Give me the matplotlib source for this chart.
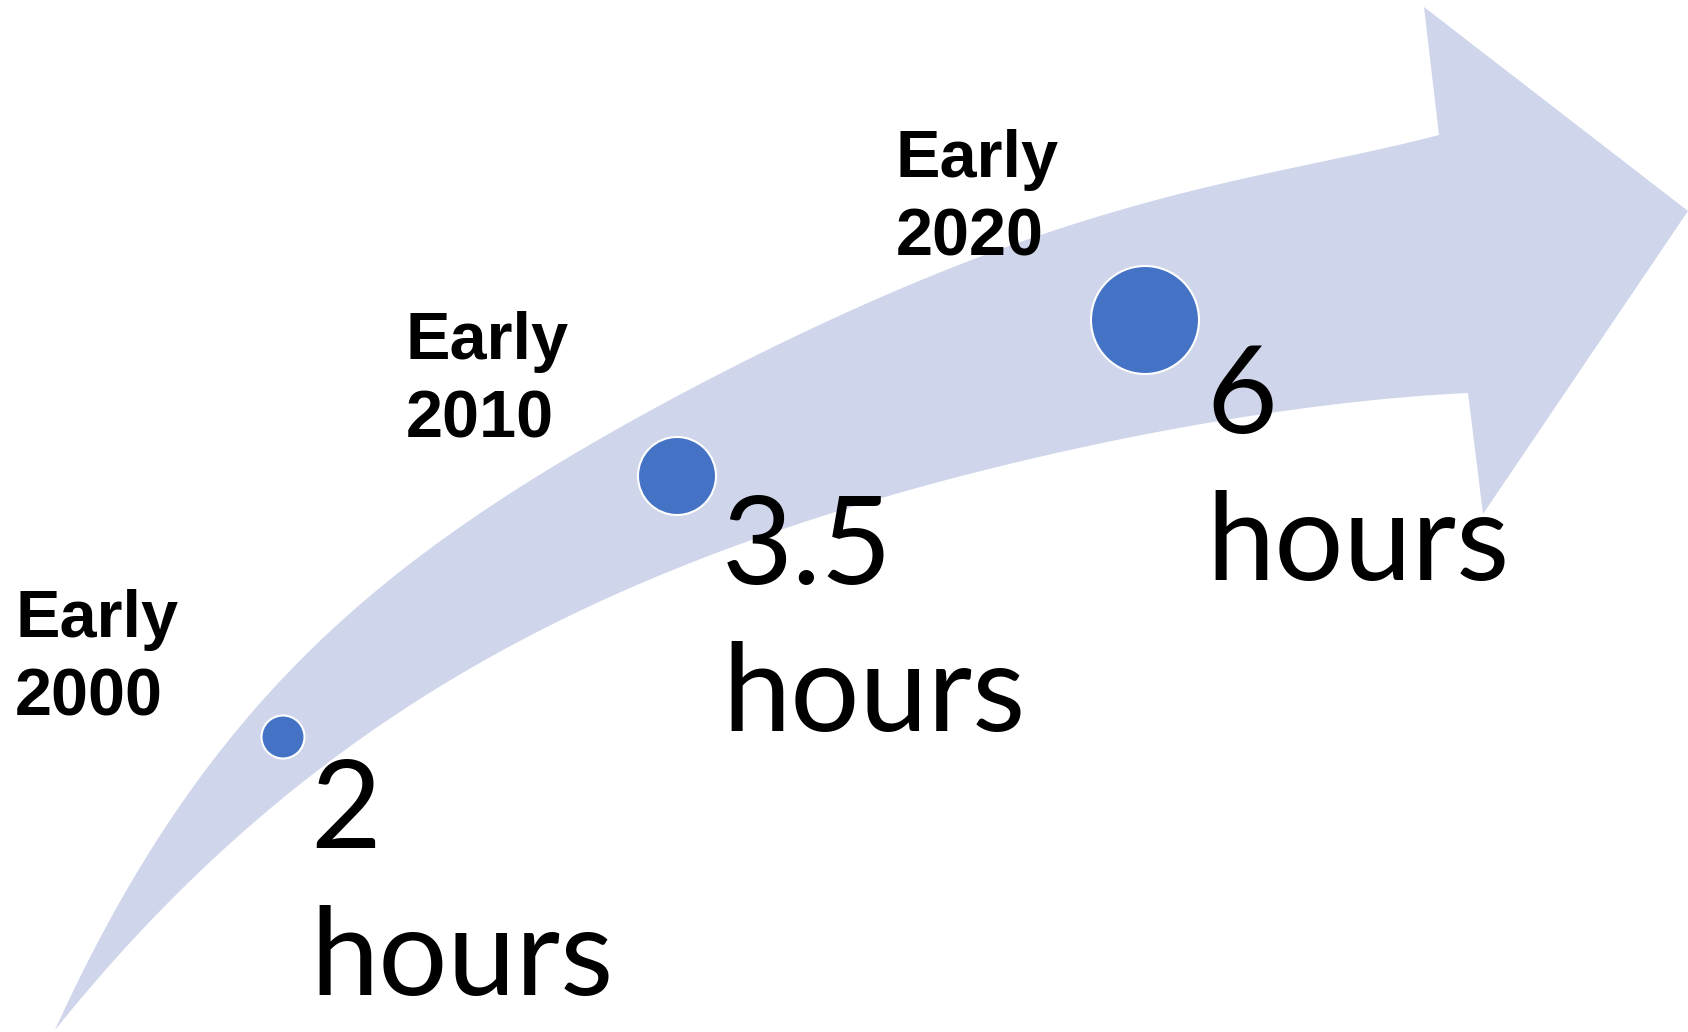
import numpy as np
import matplotlib.pyplot as plt
from matplotlib.patches import Polygon, Circle

# data
periods = ["Early\n2000", "Early\n2010", "Early\n2020"]
hours = [2, 3.5, 6]
hour_labels = [f"{h:g}\nhours" for h in hours]

# layout (pixel coords, y downwards)
dot_xy = [(283, 737), (677, 476), (1145, 320)]
dot_r = [21.5, 39, 54]
period_xy = [(15, 637), (406, 359), (896, 177)]     # left, baseline of first line
hour_xy = [(310, 848), (722, 584), (1206, 433)]

# arrow outline
top_edge = [(55, 1030), (73, 980), (100, 927), (120, 900), (133, 867), (167, 833), (180, 800),
            (233, 747), (300, 667), (400, 573), (493, 500), (550, 460), (650, 413), (750, 363),
            (850, 310), (950, 267), (1050, 233), (1150, 203), (1250, 177), (1350, 153), (1439, 135)]
bottom_edge = [(55, 1030), (77, 1003), (117, 957), (167, 900), (232, 845), (300, 787),
               (400, 710), (500, 650), (600, 600), (750, 543), (850, 510), (950, 477),
               (1050, 453), (1150, 433), (1250, 417), (1350, 403), (1468, 393)]
head = [(1424, 7), (1688, 211), (1483, 514)]


def smooth_edge(pts, n=300):
    p = np.array(pts, float)
    x0, x1 = p[0, 0], p[-1, 0]
    u = (p[:, 0] - x0) / (x1 - x0)
    w = np.ones(len(p))
    w[[0, -1]] = 20
    coef = np.polyfit(u, p[:, 1], 5, w=w)
    uu = np.linspace(0, 1, n)
    return np.column_stack([x0 + uu * (x1 - x0), np.polyval(coef, uu)])


fig = plt.figure(figsize=(16.88, 10.32), dpi=100)
ax = fig.add_axes([0, 0, 1, 1])
ax.set_xlim(0, 1688)
ax.set_ylim(1032, 0)
ax.set_aspect("equal")
ax.axis("off")

top = smooth_edge(top_edge)
bot = smooth_edge(bottom_edge)
outline = np.vstack([top, np.array(head, float), bot[::-1]])
ax.add_patch(Polygon(outline, closed=True, facecolor="#CFD5EA", edgecolor="none"))

for (x, y), r in zip(dot_xy, dot_r):
    ax.add_patch(Circle((x, y), r, facecolor="#4472C4", edgecolor="white", linewidth=1.5))

for (x, y), lab in zip(period_xy, periods):
    first, second = lab.split("\n")
    ax.text(x, y, first, fontsize=48, fontweight="bold", family="Liberation Sans", va="baseline", ha="left")
    ax.text(x, y + 79, second, fontsize=48, fontweight="bold", family="Liberation Sans", va="baseline", ha="left")

for (x, y), lab in zip(hour_xy, hour_labels):
    first, second = lab.split("\n")
    ax.text(x, y, first, fontsize=88, family="Lato", va="baseline", ha="left")
    ax.text(x, y + 147, second, fontsize=88, family="Lato", va="baseline", ha="left")

fig.savefig("out.png", dpi=100)
